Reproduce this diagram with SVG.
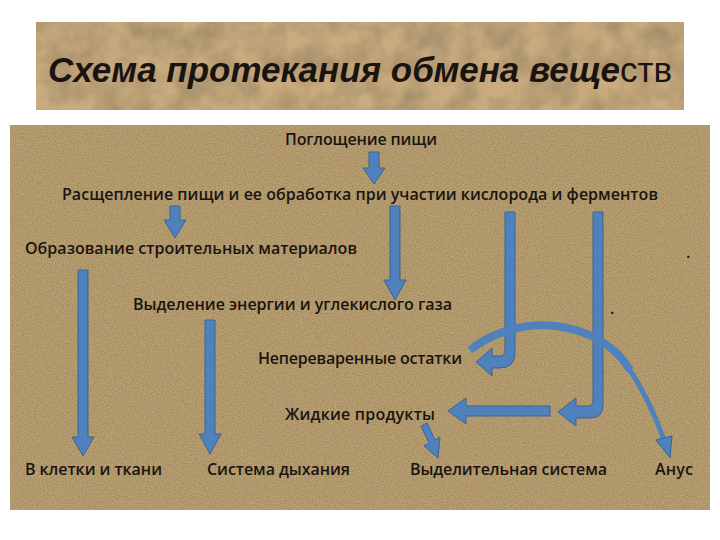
<svg xmlns="http://www.w3.org/2000/svg" width="720" height="540" viewBox="0 0 720 540">
<defs>
<filter id="burlap" x="0" y="0" width="100%" height="100%">
<feTurbulence type="fractalNoise" baseFrequency="0.9" numOctaves="2" seed="3" result="n"/>
<feColorMatrix in="n" type="matrix" values="0 0 0 0 0.3  0 0 0 0 0.22  0 0 0 0 0.1  0 0 0 1.6 -0.5" result="c"/>
<feComposite in="c" in2="SourceGraphic" operator="in"/>
</filter>
<filter id="paper" x="0" y="0" width="100%" height="100%">
<feTurbulence type="fractalNoise" baseFrequency="0.04" numOctaves="3" seed="7" result="n"/>
<feColorMatrix in="n" type="matrix" values="0 0 0 0 0.3  0 0 0 0 0.22  0 0 0 0 0.12  0 0 0 1.2 -0.35" result="c"/>
<feComposite in="c" in2="SourceGraphic" operator="in"/>
</filter>
<style>
.t{font-family:"Open Sans","Liberation Sans",sans-serif;font-size:16px;font-weight:600;fill:#1a1410;}
.a{fill:#4f81bd;stroke:#3a6496;stroke-width:1;}
.s{fill:none;stroke:#4f81bd;}
</style>
</defs>
<rect width="720" height="540" fill="#ffffff"/>
<rect x="36" y="22" width="648" height="88" fill="#c9ab7e"/>
<rect x="36" y="22" width="648" height="88" fill="#000" filter="url(#paper)"/>
<text x="48" y="82" textLength="624" font-family="Liberation Sans,sans-serif" font-size="35" font-style="italic" font-weight="bold" fill="#1a1410">Схема протекания обмена веще<tspan font-style="normal" font-weight="normal">ств</tspan></text>
<rect x="10" y="125" width="700" height="385" fill="#bda274"/>
<rect x="10" y="125" width="700" height="385" fill="#000" filter="url(#burlap)"/>
<g id="connectors">
<polygon class="a" points="369,152 379,152 379,168 385,168 374,184 363,168 369,168"/>
<polygon class="a" points="170,206 180,206 180,220 186,220 175,238 164,220 170,220"/>
<polygon class="a" points="390,206 400,206 400,280 406,280 395,300 384,280 390,280"/>
<path class="a" d="M505,212 H515 V352 Q515,368 500,368 H492 V376 L476,362 L492,348 V356 H500 Q505,356 505,350 Z"/>
<path class="a" d="M593,212 H603 V405 Q603,418 590,418 H576 V426 L558,412 L576,398 V406 H588 Q593,406 593,400 Z"/>
<polygon class="a" points="550,406 550,416 466,416 466,424 448,411 466,398 466,406"/>
<polygon class="a" points="78,270 88,270 88,437 94,437 83,456 72,437 78,437"/>
<polygon class="a" points="205,320 215,320 215,434 221,434 210,454 199,434 205,434"/>
<polygon class="a" points="421,426 427,423 435,440 440,437 438,458 424,446 429,443"/>
<path class="s" stroke-width="8" d="M470,350 C520,310 600,320 630,370"/>
<path class="s" stroke-width="5" d="M628,367 C645,392 655,415 664,440"/>
<polygon class="a" points="656,440 672,436 670,458"/>
</g>
<g id="n1"><text class="t" x="285" y="145" textLength="152">Поглощение пищи</text></g>
<g id="n2"><text class="t" x="62" y="200" textLength="596">Расщепление пищи и ее обработка при участии кислорода и ферментов</text></g>
<g id="n3"><text class="t" x="25" y="254" textLength="332">Образование строительных материалов</text></g>
<g id="n4"><text class="t" x="133" y="310" textLength="319">Выделение энергии и углекислого газа</text></g>
<g id="n5"><text class="t" x="258" y="364" textLength="204">Непереваренные остатки</text></g>
<g id="n6"><text class="t" x="285" y="420" textLength="150">Жидкие продукты</text></g>
<g id="n7"><text class="t" x="25" y="475" textLength="137">В клетки и ткани</text></g>
<g id="n8"><text class="t" x="207" y="475" textLength="143">Система дыхания</text></g>
<g id="n9"><text class="t" x="410" y="475" textLength="197">Выделительная система</text></g>
<g id="n10"><text class="t" x="655" y="475" textLength="38">Анус</text></g>
<text class="t" x="686" y="258">.</text>
<text class="t" x="610" y="314">.</text>
</svg>
